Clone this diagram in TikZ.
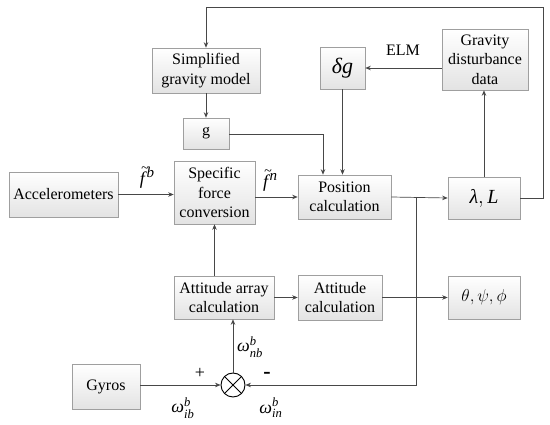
\documentclass[tikz,border=0pt]{standalone}
\usepackage{amsmath}
\usepackage{fontspec}
\setmainfont{Liberation Serif}
\usetikzlibrary{arrows.meta,shadows,calc}
\newcommand\mvar[1]{\text{\itshape #1}}
\newcommand\tildef[1]{{\itshape\rlap{\hspace{1.2pt}\raisebox{12pt}{\fontsize{14}{14}\selectfont\textasciitilde}}f\kern1.5pt\raisebox{7pt}{\fontsize{15}{15}\selectfont #1}}}
\begin{document}
\begin{tikzpicture}[x=1pt,y=-1pt,
  box/.style={draw=gray!75, line width=0.6pt, top color=white, bottom color=gray!22,
    drop shadow={shadow xshift=1.2pt, shadow yshift=-1.2pt, fill=gray!45, opacity=0.6},
    align=center, inner sep=1pt, font=\fontsize{16}{19.5}\selectfont},
  conn/.style={draw=black!72, line width=0.7pt, -{Stealth[length=5.5pt,width=4.5pt]}},
  lab/.style={font=\fontsize{18}{20}\selectfont, inner sep=0pt}
]
\useasboundingbox (0,0) rectangle (550,425);

\node[box, minimum width=108, minimum height=45] (sgm) at (206,70.5) {Simplified\\gravity model};
\node[box, minimum width=45, minimum height=42, font=\fontsize{22}{24}\selectfont] (dg) at (342.5,68) {$\mvar{δg}$};
\node[box, minimum width=86, minimum height=61] (gdd) at (485,59.5) {Gravity\\disturbance\\data};
\node[box, minimum width=46, minimum height=31] (gb) at (206,133.5) {g};
\node[box, minimum width=109, minimum height=45] (acc) at (63.5,194.5) {Accelerometers};
\node[box, minimum width=81, minimum height=63] (sfc) at (214.5,192.5) {Specific\\force\\conversion};
\node[box, minimum width=93, minimum height=44] (pos) at (344.5,197) {Position\\calculation};
\node[box, minimum width=72, minimum height=42, font=\fontsize{20}{22}\selectfont] (lam) at (484,198) {$\mvar{λ}, \mvar{L}$};
\node[box, minimum width=100, minimum height=43] (aac) at (224,297.5) {Attitude array\\calculation};
\node[box, minimum width=84, minimum height=45] (ac) at (340,297.5) {Attitude\\calculation};
\node[box, minimum width=72, minimum height=43, font=\fontsize{17}{19}\selectfont] (tpp) at (484,297.5) {$\theta,\psi,\phi$};
\node[box, minimum width=68, minimum height=45] (gyr) at (106,386.5) {Gyros};
\node[circle, draw=black, line width=0.9pt, fill=white, minimum size=24, inner sep=0pt] (ot) at (233,385) {};
\draw[line width=0.9pt] ($(ot.center)+(-8.2,-8.2)$) -- ($(ot.center)+(8.2,8.2)$);
\draw[line width=0.9pt] ($(ot.center)+(-8.2,8.2)$) -- ($(ot.center)+(8.2,-8.2)$);

\coordinate (tr) at (543,7.3);
\coordinate (tl) at (206,7.3);
\coordinate (br) at (416,197);
\coordinate (gc) at (323,134);

% arrows
\draw[conn] (acc.east) -- (acc.east -| sfc.west);
\draw[conn] (pos.west -| sfc.east) -- (pos.west);
\draw[conn] (sfc.south |- aac.north) -- (sfc.south);
\draw[conn] (aac.east |- ac.west) -- (ac.west);
\draw[conn] (ac.east) -- (ac.east -| tpp.west);
\draw[conn] (pos.east) -- (lam.west);
\draw[conn] (lam.north) -- (gdd.south -| lam.north);
\draw[conn] (gdd.west |- dg.east) -- (dg.east);
\draw[conn] (dg.south) -- (dg.south |- pos.north);
\draw[conn] (gb.east |- gc) -- (gc) -- (gc |- pos.north);
\draw[conn] (sgm.south) -- (gb.north);
\draw[conn] (lam.east) -| (tr) -- (tl) -- (sgm.north -| tl);
\draw[conn] (gyr.east |- ot.west) -- (ot.west);
\draw[conn] (ot.north) -- (ot.north |- aac.south);
\draw[conn] (br) |- (ot.east);

% labels
\node[lab, font=\fontsize{16}{18}\selectfont] (elm) at (403,50) {ELM};
\node[lab] (fb) at (147,178) {\tildef{b}};
\node[lab] (fn) at (270,181) {\tildef{n}};
\node[lab] (wnb) at (250,347) {$\mvar{ω}^{\mvar{b}}_{\mvar{nb}}$};
\node[lab] (plus) at (200,373) {+};
\node[lab, font=\fontsize{22}{24}\selectfont\bfseries] (minus) at (267,375) {-};
\node[lab] (wib) at (183,408) {$\mvar{ω}^{\mvar{b}}_{\mvar{ib}}$};
\node[lab] (win) at (271,408) {$\mvar{ω}^{\mvar{b}}_{\mvar{in}}$};
\end{tikzpicture}
\end{document}
